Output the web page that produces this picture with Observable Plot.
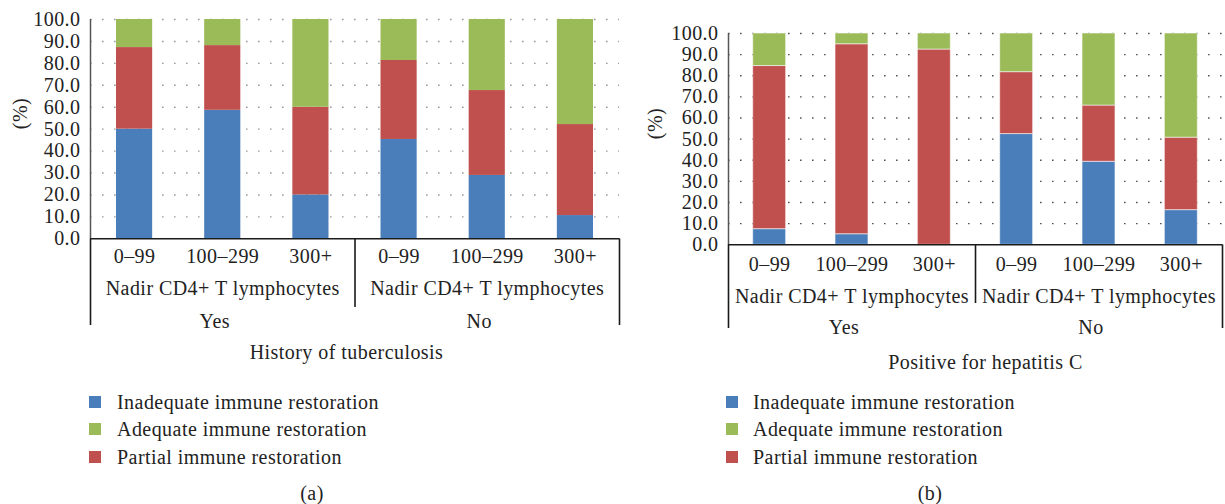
<!DOCTYPE html>
<html><head><meta charset="utf-8">
<script src="https://cdn.jsdelivr.net/npm/d3@7"></script>
<script src="https://cdn.jsdelivr.net/npm/@observablehq/plot@0.6"></script>
<style>
body{margin:0;background:#fff;}
#root{position:relative;width:1225px;height:504px;font-family:"Liberation Serif",serif;color:#222;letter-spacing:0.45px;font-size:20px;overflow:hidden;}
.panel{position:absolute;top:0;}
.row{position:absolute;white-space:nowrap;line-height:24px;height:24px;}
.sw{position:absolute;width:12px;height:12px;}
.cap{position:absolute;transform:translate(-50%,-50%);white-space:nowrap;}
</style></head><body><div id="root"></div>
<script>
// ---- data ----
const groups = ["Yes", "No"];
const cats = ["0–99", "100–299", "300+"];
const groupCatLabel = "Nadir CD4+ T lymphocytes";
const seriesNames = ["Inadequate immune restoration", "Partial immune restoration", "Adequate immune restoration"];
const legendOrder = ["Inadequate immune restoration", "Adequate immune restoration", "Partial immune restoration"];
const seriesColors = ["#4A7EBB", "#C0504D", "#9BBB59"];
const yTicks = [0, 10, 20, 30, 40, 50, 60, 70, 80, 90, 100];

// History of tuberculosis (panel a): Yes 0–99, 100–299, 300+, No 0–99, 100–299, 300+
const tbInadequate = [50.0, 58.6, 20.0, 45.3, 28.9, 10.6];
const tbPartial    = [37.2, 29.5, 40.0, 36.0, 38.7, 41.5];
const tbAdequate   = [12.8, 11.9, 40.0, 18.7, 32.4, 47.9];

// Positive for hepatitis C (panel b)
const hcvInadequate = [7.4, 5.0, 0.0, 52.4, 39.3, 16.4];
const hcvPartial    = [77.2, 89.9, 92.4, 29.3, 26.6, 34.3];
const hcvAdequate   = [15.4, 5.1, 7.6, 18.3, 34.1, 49.3];

const keys = groups.flatMap(g => cats.map(c => g + " " + c));
const catOfKey = keys.map((k, i) => cats[i % 3]);

function rowsFor(seriesArrays) {
  const rows = [];
  seriesArrays.forEach((arr, s) => {
    arr.forEach((v, i) => rows.push({key: keys[i], cat: catOfKey[i], series: seriesNames[s], value: v}));
  });
  return rows;
}

function makePanel(cfg) {
  const rows = rowsFor(cfg.series);
  const step = (cfg.width - cfg.ml - cfg.mr) / keys.length;
  const bottomY = cfg.height - cfg.mb;
  const ext = cfg.hierBottom - bottomY;
  const divExt = cfg.dividerBottom - bottomY;
  const lineStyle = {stroke: "#1a1a1a", strokeWidth: 1.6};
  const shift = 5;
  return Plot.plot({
    width: cfg.width,
    height: cfg.height,
    marginLeft: cfg.ml,
    marginRight: cfg.mr,
    marginTop: cfg.mt,
    marginBottom: cfg.mb,
    style: {fontFamily: "Liberation Serif, serif", fontSize: "20px", letterSpacing: "0.45px", color: "#222", background: "transparent", overflow: "visible"},
    x: {domain: keys, paddingInner: cfg.pad, paddingOuter: cfg.pad / 2, round: false, axis: null},
    y: {domain: [0, 100], ticks: yTicks, tickFormat: d => d.toFixed(1), tickSize: 0, tickPadding: 10, label: null},
    color: {domain: seriesNames, range: seriesColors},
    marks: [
      Plot.ruleY(yTicks.filter(d => d > 0), {stroke: cfg.gridColor, strokeWidth: 1.4, strokeDasharray: "1.6 10.4"}),
      Plot.barY(rows, {x: "key", y: "value", fill: "series", stroke: cfg.barStroke, strokeOpacity: 0.55, strokeWidth: cfg.barStroke ? 1 : 0}),
      Plot.ruleY([0], {stroke: "#1a1a1a", strokeWidth: 1.5}),
      // y axis line
      Plot.ruleX([keys[0]], {x: d => d, y1: 100, y2: 0, dx: -step / 2, stroke: "#555", strokeWidth: 1.5}),
      // hierarchical category axis lines
      Plot.ruleX([keys[0]], {x: d => d, y1: 0, y2: 0, insetBottom: -ext, dx: -step / 2, ...lineStyle}),
      Plot.ruleX([keys[2]], {x: d => d, y1: 0, y2: 0, insetBottom: -divExt, dx: step / 2, ...lineStyle}),
      Plot.ruleX([keys[5]], {x: d => d, y1: 0, y2: 0, insetBottom: -ext, dx: step / 2, ...lineStyle}),
      // category labels
      Plot.text(keys, {x: d => d, text: (d, i) => catOfKey[i], frameAnchor: "bottom", dy: cfg.catDy + shift}),
      Plot.text(groups, {x: g => g + " " + cats[1], text: () => groupCatLabel, frameAnchor: "bottom", dy: cfg.nadirDy + shift}),
      Plot.text(groups, {x: g => g + " " + cats[1], text: g => g, frameAnchor: "bottom", dy: cfg.groupDy + shift, dx: -8}),
      Plot.text([cfg.title], {text: d => d, frameAnchor: "bottom", dy: cfg.titleDy + shift, dx: cfg.titleDx}),
      Plot.text(["(%)"], {text: d => d, frameAnchor: "left", dx: cfg.pctDx, rotate: -90})
    ]
  });
}

const root = document.getElementById("root");

const panels = [
  {left: 0, width: 625, height: 372, ml: 90, mr: 6, mt: 19, mb: 372 - 238.3, pad: 0.59,
   series: [tbInadequate, tbPartial, tbAdequate], title: "History of tuberculosis",
   catDy: 19.5, nadirDy: 50.7, groupDy: 83.7, titleDy: 114.7, titleDx: -8.5, pctDx: -70,
   hierBottom: 325, dividerBottom: 307, gridColor: "#9a9a9a", barStroke: null,
   legendX: 89, legendTextX: 117, caption: "(a)", capX: 312},
  {left: 638, width: 587, height: 382, ml: 90, mr: 3, mt: 33, mb: 382 - 244.3, pad: 0.6,
   series: [hcvInadequate, hcvPartial, hcvAdequate], title: "Positive for hepatitis C",
   catDy: 20.7, nadirDy: 53.4, groupDy: 84.4, titleDy: 119.4, titleDx: 10, pctDx: -73,
   hierBottom: 328, dividerBottom: 303, gridColor: "#555", barStroke: "#ffffff",
   legendX: 726, legendTextX: 753, caption: "(b)", capX: 930}
];

const legendRowsY = [401.7, 428.7, 457];

panels.forEach(cfg => {
  const div = document.createElement("div");
  div.className = "panel";
  div.style.left = cfg.left + "px";
  div.appendChild(makePanel(cfg));
  root.appendChild(div);

  legendOrder.forEach((name, i) => {
    const sw = document.createElement("div");
    sw.className = "sw";
    sw.style.left = cfg.legendX + "px";
    sw.style.top = (legendRowsY[i] - 6) + "px";
    sw.style.background = seriesColors[seriesNames.indexOf(name)];
    root.appendChild(sw);
    const t = document.createElement("div");
    t.className = "row";
    t.style.left = cfg.legendTextX + "px";
    t.style.top = (legendRowsY[i] - 12) + "px";
    t.textContent = name;
    root.appendChild(t);
  });

  const cap = document.createElement("div");
  cap.className = "cap";
  cap.style.left = cfg.capX + "px";
  cap.style.top = "492.7px";
  cap.textContent = cfg.caption;
  root.appendChild(cap);
});
</script>
</body></html>
